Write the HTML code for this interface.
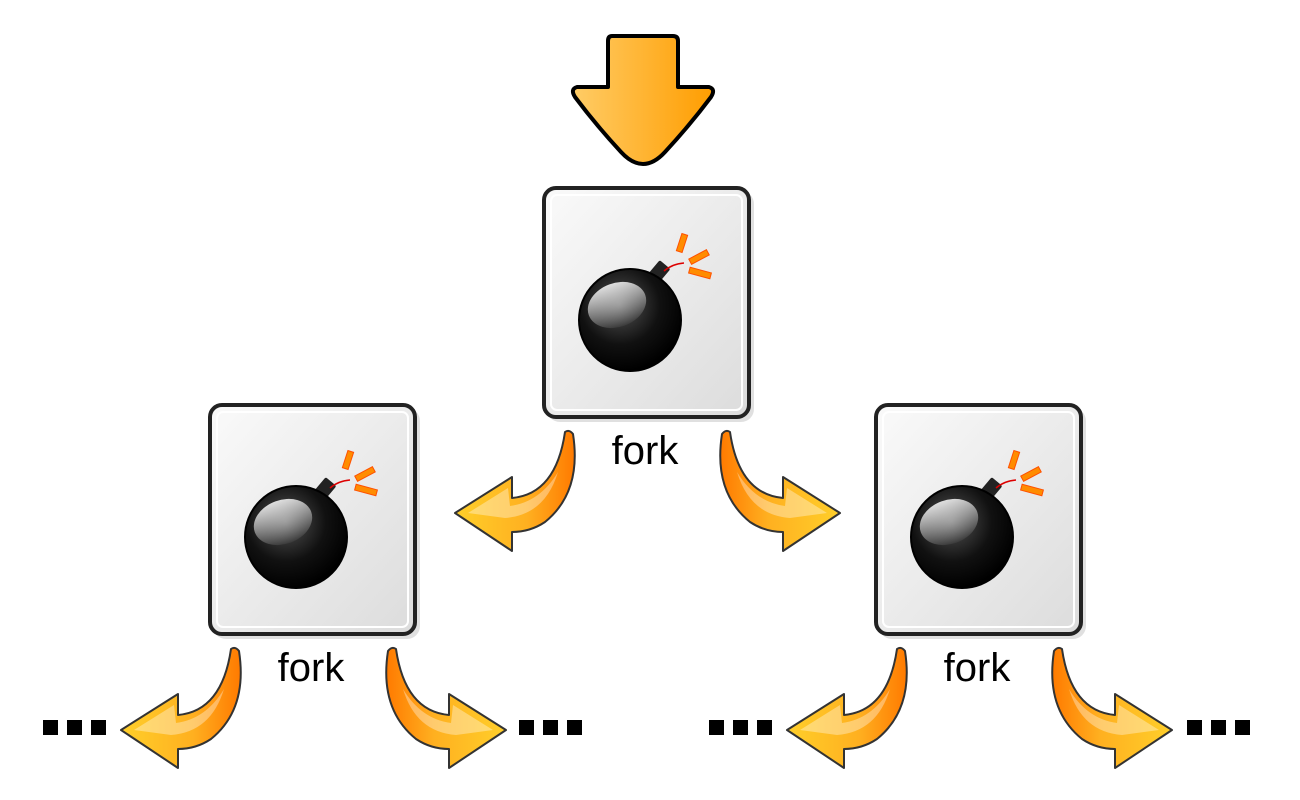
<!DOCTYPE html>
<html><head><meta charset="utf-8"><style>
html,body{margin:0;padding:0;background:#fff;width:1300px;height:800px;overflow:hidden}
svg{display:block}
text{font-family:"Liberation Sans",sans-serif;font-size:40px;fill:#000}
</style></head><body>
<svg width="1300" height="800" viewBox="0 0 1300 800">
<defs>
<linearGradient id="ag" x1="0" x2="1" y1="0" y2="0"><stop offset="0" stop-color="#ffcc66"/><stop offset="1" stop-color="#ff9d00"/></linearGradient>
<linearGradient id="bx" x1="0" y1="0" x2="1" y2="1"><stop offset="0" stop-color="#fafafa"/><stop offset="1" stop-color="#dcdcdc"/></linearGradient>
<radialGradient id="bm" cx="0.4" cy="0.35" r="0.65"><stop offset="0" stop-color="#555"/><stop offset="0.6" stop-color="#111"/><stop offset="1" stop-color="#000"/></radialGradient>
<linearGradient id="hl" x1="0" y1="0" x2="0" y2="1"><stop offset="0" stop-color="#fff" stop-opacity="0.85"/><stop offset="1" stop-color="#fff" stop-opacity="0.05"/></linearGradient>
<linearGradient id="cg" x1="0" y1="0" x2="1" y2="0"><stop offset="0" stop-color="#ffcf2a"/><stop offset="0.6" stop-color="#ffb020"/><stop offset="1" stop-color="#ff7a00"/></linearGradient>
<g id="node">
  <rect x="547" y="191" width="207" height="231" rx="13" fill="#000" opacity="0.12"/>
  <rect x="544" y="188" width="205" height="229" rx="12" fill="url(#bx)" stroke="#222" stroke-width="4"/>
  <rect x="551" y="195" width="191" height="215" rx="6" fill="none" stroke="#fff" stroke-width="2"/>
  <rect x="651" y="262" width="14" height="22" rx="2" fill="#222" transform="rotate(40 658 273)"/>
  <circle cx="630" cy="320" r="51" fill="url(#bm)" stroke="#000" stroke-width="2"/>
  <ellipse cx="617" cy="305" rx="30" ry="22" fill="url(#hl)" transform="rotate(-20 617 305)"/>
  <path d="M664 271 Q672 264 684 263" stroke="#d00" stroke-width="1.5" fill="none"/>
  <rect x="679" y="234" width="6" height="18" fill="#ff8c00" stroke="#ff5000" stroke-width="1" transform="rotate(18 682 243)"/>
  <rect x="689" y="254" width="20" height="6" fill="#ff8c00" stroke="#ff5000" stroke-width="1" transform="rotate(-28 699 257)"/>
  <rect x="689" y="270" width="22" height="6" fill="#ff8c00" stroke="#ff5000" stroke-width="1" transform="rotate(15 700 273)"/>
</g>
<g id="curl">
  <path d="M455 513 L512 477 L512 498 Q556 494 565 432 Q569 429 573 434 Q582 492 545 522 Q530 532 512 532 L512 551 Z" fill="url(#cg)" stroke="#333" stroke-width="2" stroke-linejoin="round"/>
  <path d="M468 513 L508 488 L510 506 Q540 502 558 472 Q545 515 505 518 Z" fill="#fff" opacity="0.35"/>
</g>
</defs>

<path d="M612 36 H673 Q678 36 678 41 V87 H709 Q716 89 711 97 Q690 125 665 152 Q643 176 621 152 Q596 125 575 97 Q570 89 577 87 H608 V41 Q608 36 612 36 Z" fill="url(#ag)" stroke="#000" stroke-width="4" stroke-linejoin="round"/>

<use href="#node"/>
<use href="#node" transform="translate(-334 217)"/>
<use href="#node" transform="translate(332 217)"/>

<use href="#curl"/>
<use href="#curl" transform="translate(1295 0) scale(-1 1)"/>
<use href="#curl" transform="translate(-334 217)"/>
<use href="#curl" transform="translate(961 217) scale(-1 1)"/>
<use href="#curl" transform="translate(332 217)"/>
<use href="#curl" transform="translate(1627 217) scale(-1 1)"/>

<text x="645" y="464" text-anchor="middle">fork</text>
<text x="311" y="681" text-anchor="middle">fork</text>
<text x="977" y="681" text-anchor="middle">fork</text>

<g fill="#000">
<rect x="43" y="720" width="15" height="15"/><rect x="67" y="720" width="15" height="15"/><rect x="91" y="720" width="15" height="15"/>
<rect x="519" y="720" width="15" height="15"/><rect x="543" y="720" width="15" height="15"/><rect x="567" y="720" width="15" height="15"/>
<rect x="709" y="720" width="15" height="15"/><rect x="733" y="720" width="15" height="15"/><rect x="757" y="720" width="15" height="15"/>
<rect x="1187" y="720" width="15" height="15"/><rect x="1211" y="720" width="15" height="15"/><rect x="1235" y="720" width="15" height="15"/>
</g>
</svg>
</body></html>
